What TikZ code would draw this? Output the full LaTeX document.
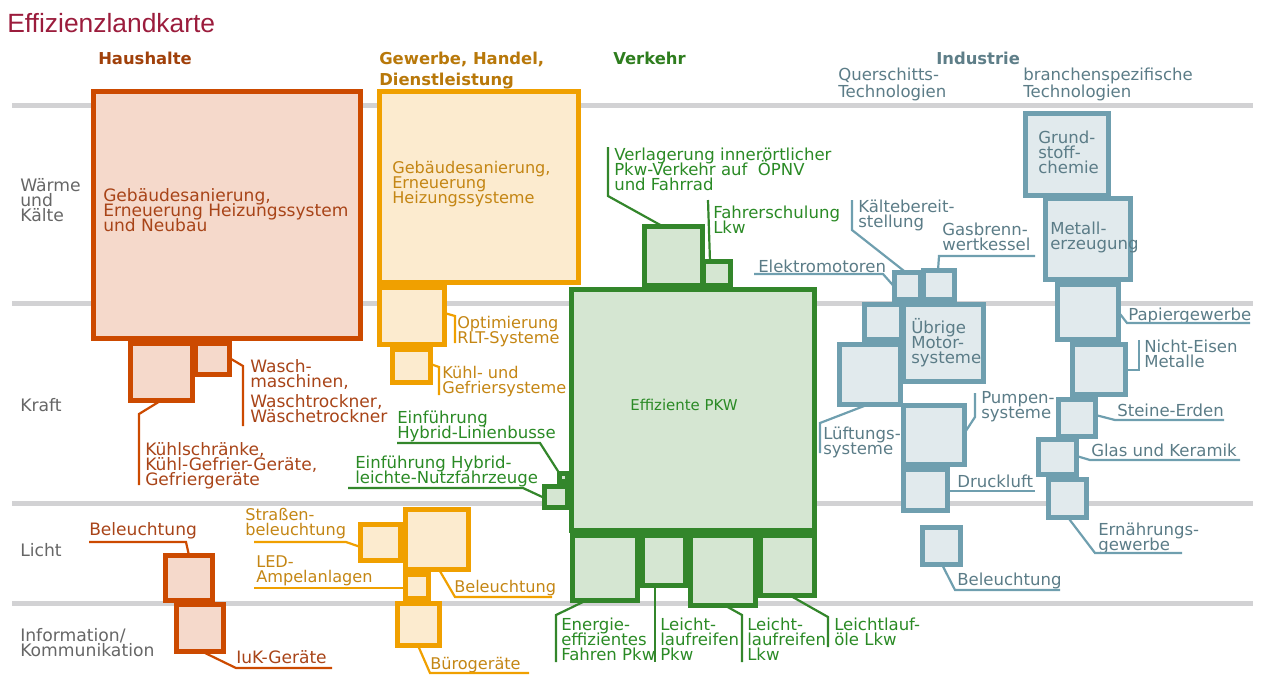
\documentclass[tikz,border=0pt]{standalone}
\usepackage{fontspec}
\setmainfont{DejaVu Sans}
\newfontfamily\titlefont{Liberation Sans}
\definecolor{hstroke}{HTML}{CC4A00}
\definecolor{hfill}{HTML}{F5D9CB}
\definecolor{htext}{HTML}{A84418}
\definecolor{hhead}{HTML}{A0400A}
\definecolor{gstroke}{HTML}{F0A000}
\definecolor{gfill}{HTML}{FCEBCF}
\definecolor{gtext}{HTML}{C48614}
\definecolor{ghead}{HTML}{B8780A}
\definecolor{vstroke}{HTML}{33862B}
\definecolor{vfill}{HTML}{D5E6D2}
\definecolor{vtext}{HTML}{2A8A25}
\definecolor{vhead}{HTML}{2E7D1E}
\definecolor{istroke}{HTML}{6F9FAF}
\definecolor{ifill}{HTML}{E1EAED}
\definecolor{itext}{HTML}{5B7C87}
\definecolor{ihead}{HTML}{5E7E88}
\definecolor{greyline}{HTML}{D2D2D4}
\definecolor{rowc}{HTML}{666666}
\definecolor{titlec}{HTML}{9B1C3C}
\newcommand\st{\rule{0pt}{12pt}}
\newcommand\fsz[2]{\fontsize{#1}{#2}\selectfont\lineskiplimit=-50pt\relax}
\newcommand\bx[6]{\node[#1, minimum width={0.75pt*(#5-#3-5)}, minimum height={0.75pt*(#6-#4-5)}] (#2) at ({(#3+#5)/2},{(#4+#6)/2}) {};}
\newcommand\lb[5]{\node[#1] (#2) at (#3,{#4-9.5}) {\st #5};}
\tikzset{
  boxbase/.style={draw, line width=3.75pt, inner sep=0pt, outer sep=0pt},
  hbox/.style={boxbase, draw=hstroke, fill=hfill},
  gbox/.style={boxbase, draw=gstroke, fill=gfill},
  vbox/.style={boxbase, draw=vstroke, fill=vfill},
  ibox/.style={boxbase, draw=istroke, fill=ifill},
  ld/.style={line width=1.65pt, line join=miter},
  hl/.style={ld, draw=hstroke},
  gl/.style={ld, draw=gstroke},
  vl/.style={ld, draw=vstroke},
  il/.style={ld, draw=istroke},
  lbl/.style={anchor=north west, inner sep=0pt, align=left, font=\fsz{12pt}{11.25pt}},
  hlbl/.style={lbl, text=htext, font=\fsz{12.8pt}{11.25pt}},
  glbl/.style={lbl, text=gtext, font=\fsz{12.1pt}{11.25pt}},
  vlbl/.style={lbl, text=vtext, font=\fsz{12.4pt}{11.25pt}},
  ilbl/.style={lbl, text=itext, font=\fsz{12.4pt}{11.25pt}},
  rl/.style={lbl, text=rowc, font=\fsz{12.9pt}{11.25pt}},
  hd/.style={lbl, font=\bfseries\fsz{12.3pt}{15.75pt}},
  sepline/.style={draw=greyline, line width=3.75pt},
}
\begin{document}
\begin{tikzpicture}[x=0.75pt,y=-0.75pt]
\useasboundingbox (0,0) rectangle (1267,676);
% title
\node[anchor=base west, inner sep=0pt, font=\titlefont\fontsize{19.8pt}{20pt}\selectfont, text=titlec] (title) at (7,32) {Effizienzlandkarte};
% separator lines
\draw[sepline] (12,105) -- (1253,105);
\draw[sepline] (12,303) -- (1253,303);
\draw[sepline] (12,503) -- (1253,503);
\draw[sepline] (12,603) -- (1253,603);
% headers
\lb{hd,text=hhead}{hh}{98}{58}{Haushalte}
\lb{hd,text=ghead}{gh}{379}{58}{Gewerbe, Handel,\\Dienstleistung}
\lb{hd,text=vhead}{vh}{613}{58}{Verkehr}
\lb{hd,text=ihead}{ih}{936}{58}{Industrie}
\lb{lbl,text=itext,font=\fsz{12.4pt}{12.4pt}}{iq}{838}{74}{Querschitts-\\Technologien}
\lb{lbl,text=itext,font=\fsz{12.4pt}{12.4pt}}{ib}{1023}{74}{branchenspezifische\\Technologien}
% row labels
\lb{rl}{rw}{20}{185}{Wärme\\und\\Kälte}
\lb{rl}{rk}{20}{405}{Kraft}
\lb{rl}{rli}{20}{550}{Licht}
\lb{rl}{ri}{20}{635}{Information/\\Kommunikation}

% ---------- Haushalte ----------
\bx{hbox}{hgeb}{91}{89}{363}{341}
\bx{hbox}{hkuehl}{128}{341}{195}{403}
\bx{hbox}{hwasch}{193}{341}{232}{377}
\bx{hbox}{hbel}{163}{553}{215}{603}
\bx{hbox}{hiuk}{174}{602}{226}{654}
\lb{hlbl}{thgeb}{103}{195}{Gebäudesanierung,\\Erneuerung Heizungssystem\\und Neubau}
\lb{hlbl}{thwasch}{250}{366}{Wasch-\\maschinen,\\[3.75pt]Waschtrockner,\\Wäschetrockner}
\lb{hlbl}{thkuehl}{145}{449}{Kühlschränke,\\Kühl-Gefrier-Geräte,\\Gefriergeräte}
\lb{hlbl}{thbel}{89}{529}{Beleuchtung}
\lb{hlbl}{thiuk}{236}{657}{IuK-Geräte}
\draw[hl] (hwasch.east |- 0,358) -- (243,366) -- (243,426) coordinate (ehwasch);
\draw[hl] (161,0 |- hkuehl.south) -- (139,414) -- (139,485) coordinate (ehkuehl);
\draw[hl] (89,542) coordinate (ehbel) -- (186,542) -- (189,0 |- hbel.north);
\draw[hl] (202,0 |- hiuk.south) -- (236,668) -- (332,668) coordinate (ehiuk);

% ---------- GHD ----------
\bx{gbox}{ggeb}{377}{89}{581}{285}
\bx{gbox}{gopt}{377}{285}{447}{347}
\bx{gbox}{gkuehl}{390}{347}{433}{385}
\bx{gbox}{gstr}{358}{522}{403}{563}
\bx{gbox}{gbel}{403}{507}{471}{572}
\bx{gbox}{gled}{403}{572}{431}{601}
\bx{gbox}{gbuero}{395}{601}{442}{648}
\lb{glbl}{tggeb}{392}{167}{Gebäudesanierung,\\Erneuerung\\Heizungssysteme}
\lb{glbl}{tgopt}{457}{322}{Optimierung\\RLT-Systeme}
\lb{glbl}{tgkuehl}{442}{372}{Kühl- und\\Gefriersysteme}
\lb{glbl}{tgstr}{245}{514}{Straßen-\\beleuchtung}
\lb{glbl}{tgled}{256}{561}{LED-\\Ampelanlagen}
\lb{glbl}{tgbel}{454}{586}{Beleuchtung}
\lb{glbl}{tgbuero}{430}{663}{Bürogeräte}
\draw[gl] (gopt.east |- 0,313) -- (455,316) -- (455,343) coordinate (egopt);
\draw[gl] (gkuehl.east |- 0,364) -- (439,367) -- (439,395) coordinate (egkuehl);
\draw[gl] (254,542) coordinate (egstr) -- (346,542) -- (gstr.west |- 0,547);
\draw[gl] (254,588) coordinate (egled) -- (gled.west |- 0,588);
\draw[gl] (439,0 |- gbel.south) -- (455,597) -- (552,597) coordinate (egbel);
\draw[gl] (418,0 |- gbuero.south) -- (430,673) -- (529,673) coordinate (egbuero);

% ---------- Verkehr ----------
\bx{vbox}{vverl}{642}{224}{705}{288}
\bx{vbox}{vfahr}{701}{259}{733}{288}
\bx{vbox}{vpkw}{569}{287}{817}{533}
\bx{vbox}{vbus}{557}{471}{570}{484}
\bx{vbox}{vnfz}{542}{484}{570}{510}
\bx{vbox}{venerg}{570}{533}{640}{603}
\bx{vbox}{vrpkw}{640}{533}{688}{588}
\bx{vbox}{vrlkw}{688}{533}{758}{608}
\bx{vbox}{voel}{758}{533}{817}{598}
\node[text=vtext, font=\fontsize{11.2pt}{12pt}\selectfont, inner sep=0pt] (tvpkw) at (684,405) {Effiziente PKW};
\lb{vlbl}{tvverl}{614}{154}{Verlagerung innerörtlicher\\Pkw-Verkehr auf \ ÖPNV\\und Fahrrad}
\lb{vlbl}{tvfahr}{713}{212}{Fahrerschulung\\Lkw}
\lb{vlbl}{tvbus}{397}{417}{Einführung\\Hybrid-Linienbusse}
\lb{vlbl}{tvnfz}{355}{462}{Einführung Hybrid-\\leichte-Nutzfahrzeuge}
\lb{vlbl}{tvenerg}{561}{624}{Energie-\\effizientes\\Fahren Pkw}
\lb{vlbl}{tvrpkw}{660}{624}{Leicht-\\laufreifen\\Pkw}
\lb{vlbl}{tvrlkw}{747}{624}{Leicht-\\laufreifen\\Lkw}
\lb{vlbl}{tvoel}{834}{624}{Leichtlauf-\\öle Lkw}
\draw[vl] (663,0 |- vverl.north) -- (608,196) -- (608,147) coordinate (evverl);
\draw[vl] (710,0 |- vfahr.north) -- (708,200) coordinate (evfahr);
\draw[vl] (vbus.north west) -- (540,443) -- (397,443) coordinate (evbus);
\draw[vl] (vnfz.west |- 0,498) -- (523,488) -- (348,488) coordinate (evnfz);
\draw[vl] (586,0 |- venerg.south) -- (556,615) -- (556,662) coordinate (evenerg);
\draw[vl] (655,0 |- vrpkw.south) -- (655,662) coordinate (evrpkw);
\draw[vl] (725,0 |- vrlkw.south) -- (742,615) -- (742,662) coordinate (evrlkw);
\draw[vl] (790,0 |- voel.south) -- (828,617) -- (828,647) coordinate (evoel);

% ---------- Industrie: Querschnitt ----------
\bx{ibox}{ielek}{892}{270}{923}{302}
\bx{ibox}{igas}{921}{268}{957}{302}
\bx{ibox}{iq1}{862}{302}{904}{342}
\bx{ibox}{iueb}{901}{302}{986}{384}
\bx{ibox}{ilueft}{837}{342}{903}{407}
\bx{ibox}{ipump}{901}{403}{967}{467}
\bx{ibox}{idruck}{901}{467}{950}{513}
\bx{ibox}{ibel}{920}{525}{963}{567}
\lb{ilbl}{tikaelte}{858}{206}{Kältebereit-\\stellung}
\lb{ilbl}{tigas}{942}{229}{Gasbrenn-\\wertkessel}
\lb{ilbl}{tielek}{758}{266}{Elektromotoren}
\lb{ilbl}{tiueb}{911}{327}{Übrige\\Motor-\\systeme}
\lb{ilbl}{tilueft}{823}{433}{Lüftungs-\\systeme}
\lb{ilbl}{tipump}{981}{397}{Pumpen-\\systeme}
\lb{ilbl}{tidruck}{957}{481}{Druckluft}
\lb{ilbl}{tibel}{957}{579}{Beleuchtung}
\draw[il] (754,274) coordinate (eielek) -- (883,274) -- (ielek.west |- 0,287);
\draw[il] (852,200) coordinate (eikaelte) -- (852,230) -- (906,0 |- ielek.north);
\draw[il] (938,0 |- igas.north) -- (939,256) -- (1035,256) coordinate (eigas);
\draw[il] (868,0 |- ilueft.south) -- (820,423) -- (820,453) coordinate (eilueft);
\draw[il] (ipump.east |- 0,433) -- (975,417) -- (975,393) coordinate (eipump);
\draw[il] (idruck.east |- 0,491) -- (1035,491) coordinate (eidruck);
\draw[il] (942,0 |- ibel.south) -- (955,590) -- (1060,590) coordinate (eibel);

% ---------- Industrie: Branchen ----------
\bx{ibox}{igrund}{1023}{111}{1111}{198}
\bx{ibox}{imetall}{1043}{196}{1133}{282}
\bx{ibox}{ipapier}{1055}{282}{1121}{342}
\bx{ibox}{ine}{1070}{342}{1128}{397}
\bx{ibox}{istein}{1056}{397}{1098}{439}
\bx{ibox}{iglas}{1036}{437}{1079}{477}
\bx{ibox}{iern}{1046}{477}{1089}{520}
\lb{ilbl}{tigrund}{1038}{137}{Grund-\\stoff-\\chemie}
\lb{ilbl}{timetall}{1050}{228}{Metall-\\erzeugung}
\lb{ilbl}{tipapier}{1128}{314}{Papiergewerbe}
\lb{ilbl}{tine}{1144}{346}{Nicht-Eisen\\Metalle}
\lb{ilbl}{tistein}{1117}{410}{Steine-Erden}
\lb{ilbl}{tiglas}{1091}{450}{Glas und Keramik}
\lb{ilbl}{tiern}{1098}{529}{Ernährungs-\\gewerbe}
\draw[il] (ipapier.east |- 0,312) -- (1127,323) -- (1250,323) coordinate (eipapier);
\draw[il] (ine.east |- 0,370) -- (1139,370) -- (1139,340) coordinate (eine);
\draw[il] (istein.east |- 0,415) -- (1115,420) -- (1224,420) coordinate (eistein);
\draw[il] (iglas.east |- 0,456) -- (1090,460) -- (1240,460) coordinate (eiglas);
\draw[il] (1068,0 |- iern.south) -- (1095,553) -- (1182,553) coordinate (eiern);
\end{tikzpicture}
\end{document}
